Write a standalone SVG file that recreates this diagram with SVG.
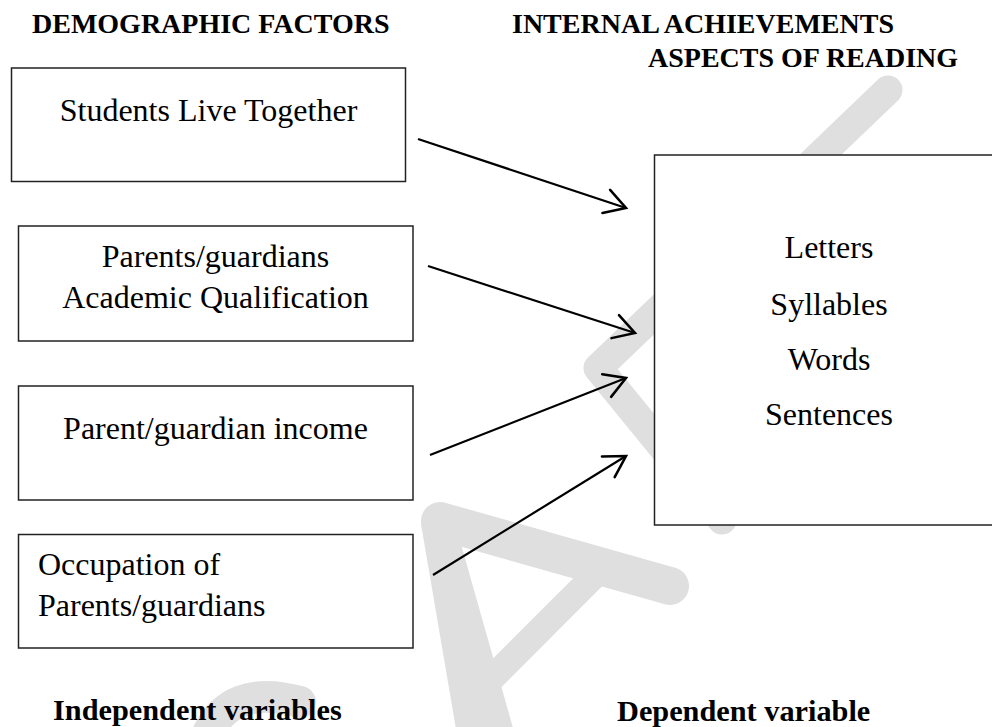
<svg xmlns="http://www.w3.org/2000/svg" width="992" height="727" viewBox="0 0 992 727">
<defs>
<style>
.wm{fill:none;stroke:#dfdfdf;stroke-linecap:round;stroke-linejoin:round}
.wmf{fill:#dfdfdf;stroke:none}
.box{fill:#fff;stroke:#222;stroke-width:1.5}
.t{font-family:"Liberation Serif","Times New Roman",serif;font-size:32px;fill:#000}
.h{font-family:"Liberation Serif","Times New Roman",serif;font-size:28px;font-weight:bold;fill:#000}
.b{font-family:"Liberation Serif","Times New Roman",serif;font-size:30.3px;font-weight:bold;fill:#000}
.c{text-anchor:middle}
.arr{fill:none;stroke:#000;stroke-width:2.2;marker-end:url(#ah)}
</style>
<marker id="ah" markerUnits="userSpaceOnUse" markerWidth="30" markerHeight="30" viewBox="-22 -13 26 26" refX="0" refY="0" orient="auto">
<path d="M-18,-10.5 L0,0 L-18,10.5" fill="none" stroke="#000" stroke-width="2.2" stroke-linecap="round" stroke-linejoin="miter"/>
</marker>
</defs>
<rect width="992" height="727" fill="#fff"/>
<g id="watermark">
<path class="wm" stroke-width="29" d="M888,90 L598,368 L722,520"/>
<polygon class="wmf" points="421,524 457,530 515,735 457,735"/>
<path class="wm" stroke-width="38" d="M440,521 L670,586"/>
<path class="wm" stroke-width="26" d="M602,568 L476,694"/>
<path class="wm" stroke-width="32" d="M205,740 Q228,682 300,702"/>
</g>
<g id="headings">
<text class="h" x="32" y="33">DEMOGRAPHIC FACTORS</text>
<text class="h" x="512" y="33">INTERNAL ACHIEVEMENTS</text>
<text class="h" x="648" y="67">ASPECTS OF READING</text>
</g>
<g id="n1">
<rect class="box" x="11.5" y="68" width="394" height="113.5"/>
<text class="t c" x="208.5" y="121">Students Live Together</text>
</g>
<g id="n2">
<rect class="box" x="18.5" y="226" width="394.5" height="115"/>
<text class="t c" x="215.5" y="267">Parents/guardians</text>
<text class="t c" x="215.5" y="308">Academic Qualification</text>
</g>
<g id="n3">
<rect class="box" x="18.5" y="386" width="394.5" height="114"/>
<text class="t c" x="215.5" y="439">Parent/guardian income</text>
</g>
<g id="n4">
<rect class="box" x="18.5" y="534.5" width="394.5" height="113.5"/>
<text class="t" x="38" y="575">Occupation of</text>
<text class="t" x="38" y="616">Parents/guardians</text>
</g>
<g id="n5">
<rect class="box" x="654.5" y="155" width="400" height="370"/>
<text class="t c" x="829" y="258">Letters</text>
<text class="t c" x="829" y="315">Syllables</text>
<text class="t c" x="829" y="370">Words</text>
<text class="t c" x="829" y="425">Sentences</text>
</g>
<g id="connectors">
<line class="arr" x1="418" y1="139" x2="626" y2="208"/>
<line class="arr" x1="428" y1="266" x2="635" y2="333"/>
<line class="arr" x1="430" y1="455" x2="626" y2="378"/>
<line class="arr" x1="433" y1="575" x2="626" y2="456"/>
</g>
<g id="footer">
<text class="b" x="53" y="720">Independent variables</text>
<text class="b" x="617" y="721">Dependent variable</text>
</g>
</svg>
